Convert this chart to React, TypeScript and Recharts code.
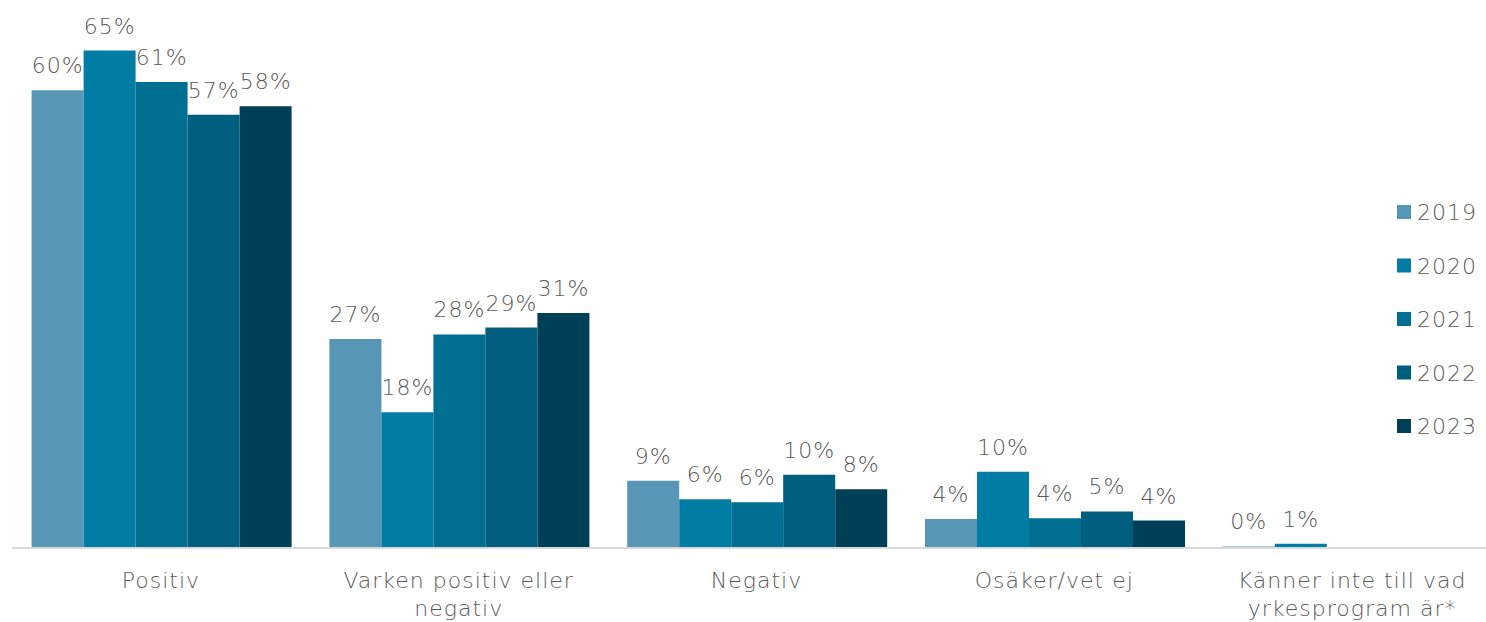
import React from 'react';
import { BarChart, Bar, XAxis, YAxis, LabelList, Legend } from 'recharts';

const categories = [
  'Positiv',
  'Varken positiv eller\nnegativ',
  'Negativ',
  'Osäker/vet ej',
  'Känner inte till vad\nyrkesprogram är*',
];
const years = ['2019', '2020', '2021', '2022', '2023'];
const values2019 = [60.0, 27.4, 8.8, 3.8, 0.2];
const values2020 = [65.2, 17.8, 6.4, 10.0, 0.55];
const values2021: (number | null)[] = [61.1, 28.0, 6.0, 3.9, null];
const values2022: (number | null)[] = [56.8, 28.9, 9.6, 4.8, null];
const values2023: (number | null)[] = [57.9, 30.8, 7.7, 3.6, null];
const colors = ['#5896b6', '#007ca5', '#006f91', '#005e7e', '#003f58'];

const seriesValues = [values2019, values2020, values2021, values2022, values2023];
const data = categories.map((name, i) => {
  const row: Record<string, any> = { name };
  years.forEach((y, k) => {
    row['y' + y] = seriesValues[k][i];
  });
  return row;
});

const FONT = '"DejaVu Sans", sans-serif';
const TEXT = '#595959';

const CatTick = (props: any) => {
  const { x, y, payload } = props;
  const lines = String(payload.value).split('\n');
  return (
    <text x={x} y={y} textAnchor="middle" fill={TEXT} fontSize={22} fontFamily={FONT} fontWeight={200} letterSpacing={1}>
      {lines.map((l, i) => (
        <tspan key={i} x={x} dy={i === 0 ? 40 : 28}>
          {l}
        </tspan>
      ))}
    </text>
  );
};

const LegendContent = () => (
  <svg width={100} height={240} style={{ overflow: 'visible' }}>
    {years.map((y, i) => (
      <g key={y}>
        <rect x={0} y={10 + i * 53.5} width={14} height={14} fill={colors[i]} />
        <text x={20} y={25 + i * 53.5} fill={TEXT} fontSize={22} fontFamily={FONT} fontWeight={200} letterSpacing={1}>
          {y}
        </text>
      </g>
    ))}
  </svg>
);

const fmt = (v: any) => (v === null || v === undefined ? '' : Math.round(Number(v)) + '%');

export default function App() {
  return (
    <div style={{ position: 'absolute', left: 0, top: 0, width: 1486, height: 622, overflow: 'hidden', background: '#fff' }}>
      <BarChart
        width={1502}
        height={622}
        data={data}
        margin={{ top: 14, right: 1, bottom: 0, left: 12 }}
        barGap={0}
        barCategoryGap={19.6}
      >
        <XAxis
          dataKey="name"
          tick={<CatTick />}
          tickLine={false}
          tickSize={0}
          tickMargin={0}
          interval={0}
          height={74}
          axisLine={{ stroke: '#d9d9d9', strokeWidth: 2 }}
        />
        <YAxis hide domain={[0, 70]} />
        <Legend
          layout="vertical"
          align="center"
          verticalAlign="middle"
          content={<LegendContent />}
          wrapperStyle={{ left: 1397, top: 195, width: 100, height: 240 }}
        />
        {years.map((y, i) => (
          <Bar key={y} dataKey={'y' + y} name={y} fill={colors[i]} isAnimationActive={false}>
            <LabelList
              dataKey={'y' + y}
              position="top"
              offset={17}
              formatter={fmt}
              fill={TEXT}
              fontSize={22}
              fontFamily={FONT}
              fontWeight={200}
              letterSpacing={1}
            />
          </Bar>
        ))}
      </BarChart>
    </div>
  );
}
